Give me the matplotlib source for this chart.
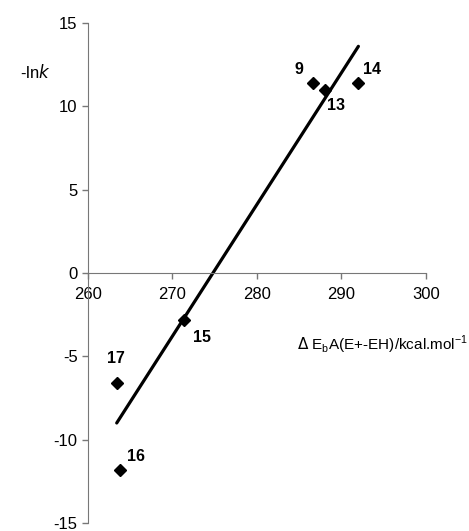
import matplotlib.pyplot as plt

# compound labels and their values
labels = ['9', '13', '14', '15', '17', '16']
dE = [286.6, 288.1, 291.9, 271.4, 263.4, 263.8]
lnk = [11.4, 11.0, 11.4, -2.8, -6.6, -11.8]

# correlation line end points
fit_x = [263.4, 292.0]
fit_y = [-9.0, 13.6]

# label offsets in points (dx, dy)
offsets = {'9': (-13, 4), '13': (1, -17), '14': (4, 4),
           '15': (6, -18), '17': (-7, 12), '16': (5, 4)}

plt.rcParams['font.family'] = ['Liberation Sans', 'DejaVu Sans']
plt.rcParams['axes.unicode_minus'] = False

fig = plt.figure(figsize=(4.69, 5.31), dpi=100)
ax = fig.add_axes([0.1876, 0.0151, 0.7207, 0.9416])

ax.plot(fit_x, fit_y, color='black', lw=2.3, solid_capstyle='round', zorder=2)
ax.plot(dE, lnk, 'D', color='black', ms=6.5, zorder=3)

for lab, x, y in zip(labels, dE, lnk):
    ax.annotate(lab, (x, y), xytext=offsets[lab], textcoords='offset points',
                fontsize=11.5, fontweight='bold', ha='left', va='bottom')

ax.set_xlim(260, 300)
ax.set_ylim(-15, 15)
ax.set_xticks([260, 270, 280, 290, 300])
ax.set_yticks([-15, -10, -5, 0, 5, 10, 15])

ax.spines['top'].set_visible(False)
ax.spines['right'].set_visible(False)
ax.spines['bottom'].set_position(('data', 0))
ax.spines['left'].set_color('#777777')
ax.spines['bottom'].set_color('#777777')
ax.tick_params(axis='both', colors='#777777', labelcolor='black', labelsize=12,
               length=4, width=1)
ax.tick_params(axis='x', pad=6)

fig.text(0.043, 0.865, r'-ln$\it{k}$', fontsize=12, ha='left', va='center')
fig.text(0.998, 0.350,
         r'$\Delta$ E$_\mathregular{b}$A(E+-EH)/kcal.mol$^\mathregular{-1}$',
         fontsize=11, ha='right', va='center')

fig.savefig('out.png', dpi=100)
